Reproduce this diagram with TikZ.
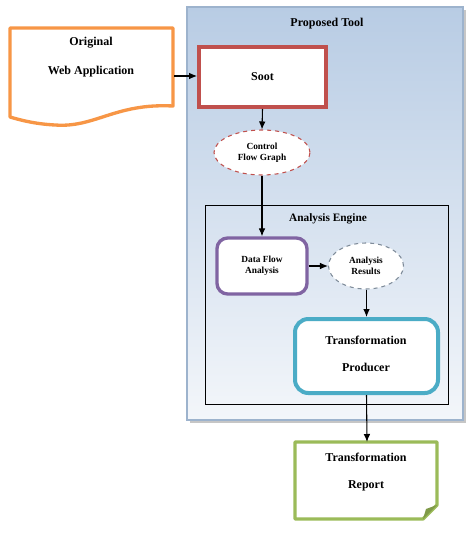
\documentclass[tikz,border=0pt]{standalone}
\usepackage{fontspec}
\setmainfont{Liberation Serif}
\usetikzlibrary{arrows.meta,shapes.geometric}
\definecolor{orangeb}{HTML}{F79646}
\definecolor{redb}{HTML}{C0504D}
\definecolor{purpleb}{HTML}{8064A2}
\definecolor{tealb}{HTML}{4BACC6}
\definecolor{greenb}{HTML}{9BBB59}
\definecolor{greenbd}{HTML}{7F9A48}
\definecolor{paneltop}{HTML}{B8CCE4}
\definecolor{panelbot}{HTML}{F3F6FA}
\definecolor{panelborder}{HTML}{9DB3CD}
\definecolor{grayb}{HTML}{7F8C9A}
\tikzset{
  lbl/.style={font=\bfseries\fontsize{9}{11}\selectfont, align=center},
  slbl/.style={font=\bfseries\fontsize{7}{8.5}\selectfont, align=center},
  arr/.style={-{Latex[length=6pt,width=5pt]}, line width=0.8pt, black},
  boxs/.style={rectangle, fill=white, inner sep=0pt},
  ells/.style={ellipse, dashed, line width=0.8pt, fill=white, inner sep=0pt},
}
\begin{document}
\begin{tikzpicture}[x=0.75pt,y=-0.75pt]
\useasboundingbox (0,0) rectangle (471,534);
% panel shadow
\fill[gray!45] (190,10) rectangle (466,423);
% panel
\shade[top color=paneltop, bottom color=panelbot, draw=panelborder, line width=0.8pt] (187,7) rectangle (463,420);
\node[lbl] (ptitle) at (327,24) {Proposed Tool};
% original document
\draw[orangeb, line width=2.5pt, fill=white, line join=round]
  (10,28) -- (173,28) -- (173,106)
  .. controls (115,103) and (95,128) .. (55,125)
  .. controls (35,124) and (20,120) .. (10,117) -- cycle;
\node[lbl] (orig1) at (91,43) {Original};
\node[lbl] (orig2) at (91,72) {Web Application};
\coordinate (origR) at (174,76);
% Soot
\node[boxs, draw=redb, line width=3pt, minimum width=95.25pt, minimum height=45pt, lbl] (soot) at (262.5,77) {Soot};
% CFG ellipse
\node[ells, draw=redb, minimum width=72pt, minimum height=33.75pt, slbl] (cfg) at (262,152.5) {Control\\Flow Graph};
% Analysis engine
\draw[black, line width=0.7pt] (205,205) rectangle (448,404);
\node[lbl, font=\bfseries\fontsize{8.5}{10}\selectfont] (ae) at (328,219) {Analysis Engine};
% Data Flow
\node[boxs, draw=purpleb, line width=2.5pt, rounded corners=8pt, minimum width=67.5pt, minimum height=42pt, slbl] (dfa) at (262,266) {Data Flow\\Analysis};
% Analysis results
\node[ells, draw=grayb, minimum width=56.25pt, minimum height=34.5pt, slbl] (ar) at (366,266) {Analysis\\Results};
% Transformation producer
\node[boxs, draw=tealb, line width=3pt, rounded corners=10pt, minimum width=107.25pt, minimum height=55.5pt] (tp) at (366.5,356) {};
\node[lbl] (tp1) at (366,340) {Transformation};
\node[lbl] (tp2) at (366,367) {Producer};
% Transformation report
\draw[greenb, line width=2.5pt, fill=white, line join=round]
  (295,442) -- (437,442) -- (437,505) -- (423,519) -- (295,519) -- cycle;
\fill[greenbd] (437,505) -- (423,519) -- (426,509) -- cycle;
\node[lbl] (tr1) at (366,457) {Transformation};
\node[lbl] (tr2) at (366,486) {Report};
\coordinate (trT) at (367,442);
% connectors
\draw[arr] (origR) -- (soot.west |- origR);
\draw[arr] (soot.south) -- (cfg.north);
\draw[arr] (cfg.south) -- (dfa.north);
\draw[arr] (dfa.east |- ar.west) -- (ar.west);
\draw[arr] (ar.south -| tp.north) -- (tp.north);
\draw[arr] (tp.south) -- (trT);
\end{tikzpicture}
\end{document}
